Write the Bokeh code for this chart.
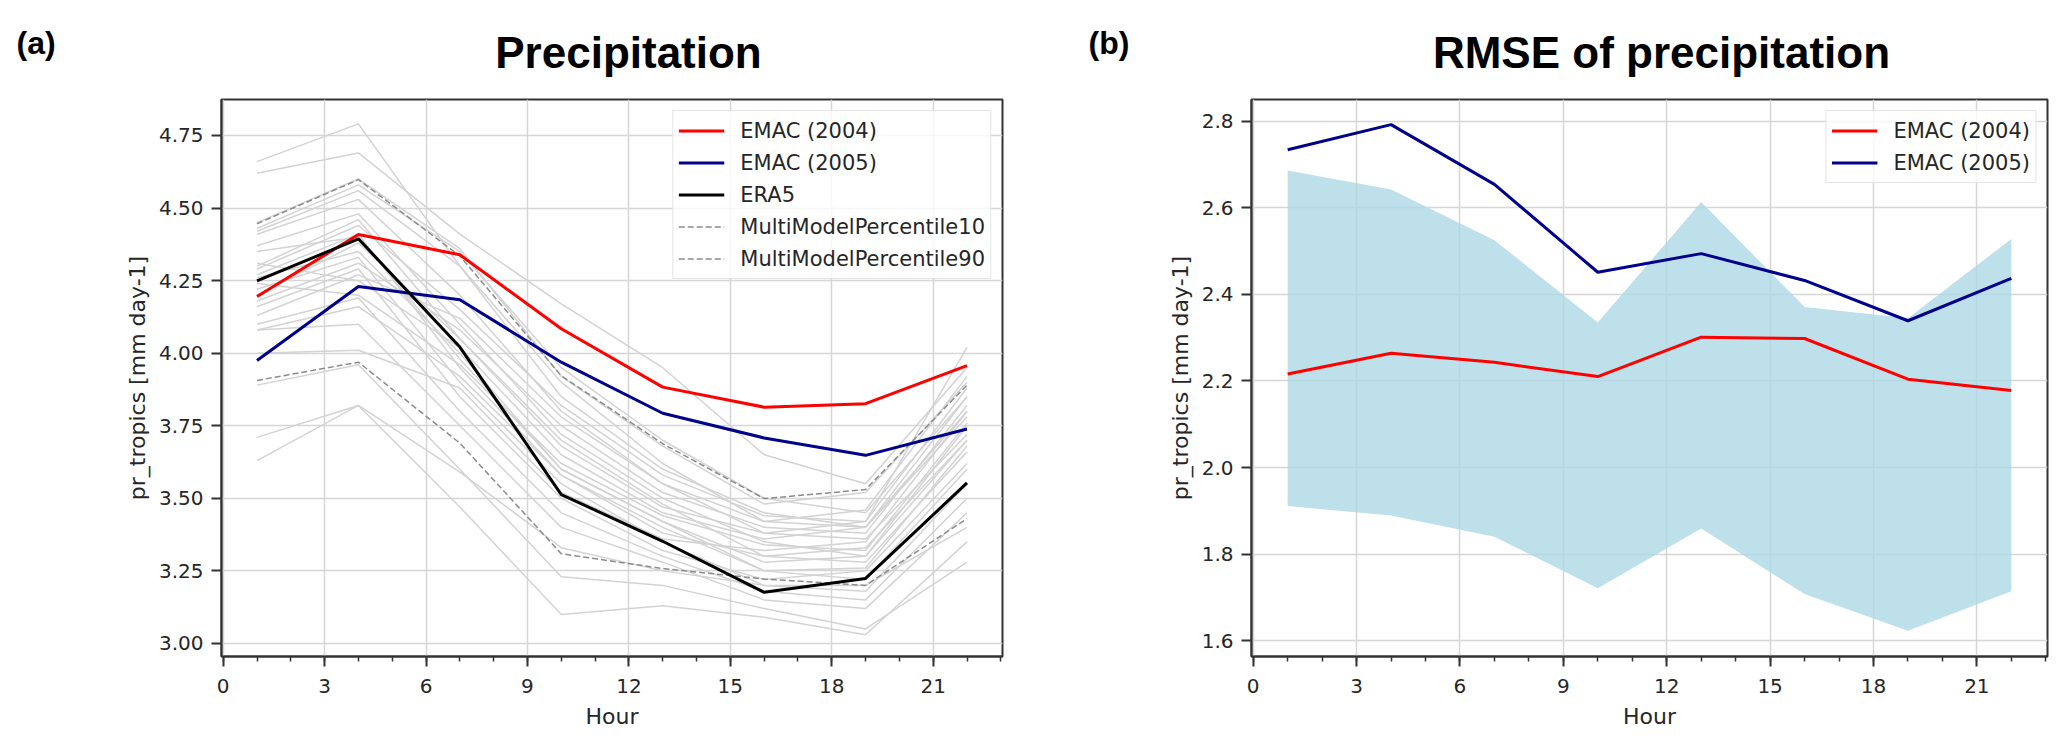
from bokeh.plotting import figure
from bokeh.models import Range1d, FixedTicker, Legend, LegendItem, NumeralTickFormatter
from bokeh.layouts import row, column
from bokeh.core.properties import value
from bokeh.embed import file_html
from bokeh.resources import INLINE

hours = [1, 4, 7, 10, 13, 16, 19, 22]
x_ticks = [0, 3, 6, 9, 12, 15, 18, 21]

# panel (a): diurnal cycle of precipitation
emac2004_pr = [4.195, 4.409, 4.339, 4.084, 3.883, 3.814, 3.826, 3.957]
emac2005_pr = [3.975, 4.230, 4.184, 3.969, 3.793, 3.708, 3.648, 3.739]
era5_pr = [4.249, 4.394, 4.021, 3.513, 3.352, 3.176, 3.224, 3.553]
p10_pr = [3.906, 3.969, 3.690, 3.309, 3.258, 3.222, 3.200, 3.430]
p90_pr = [4.446, 4.598, 4.335, 3.922, 3.688, 3.499, 3.530, 3.890]
models_pr = [
    [4.66, 4.79, 4.30, 3.85, 3.60, 3.45, 3.40, 3.80],
    [4.62, 4.69, 4.41, 4.17, 3.95, 3.65, 3.55, 3.95],
    [4.43, 4.58, 4.35, 3.95, 3.70, 3.50, 3.45, 3.85],
    [4.42, 4.56, 4.30, 3.90, 3.62, 3.42, 3.40, 3.78],
    [4.41, 4.53, 4.20, 3.80, 3.55, 3.38, 3.36, 3.72],
    [4.37, 4.48, 4.10, 3.72, 3.50, 3.35, 3.30, 3.70],
    [4.30, 4.46, 4.05, 3.70, 3.48, 3.30, 3.28, 3.66],
    [4.29, 4.44, 4.15, 3.82, 3.58, 3.44, 3.42, 3.88],
    [4.27, 4.41, 3.95, 3.58, 3.40, 3.25, 3.22, 3.60],
    [4.26, 4.35, 4.00, 3.60, 3.42, 3.28, 3.30, 3.75],
    [4.22, 4.33, 3.90, 3.55, 3.35, 3.20, 3.18, 3.55],
    [4.18, 4.31, 4.08, 3.75, 3.52, 3.40, 3.38, 3.82],
    [4.16, 4.29, 3.85, 3.50, 3.32, 3.22, 3.25, 3.62],
    [4.13, 4.27, 4.12, 3.78, 3.55, 3.42, 3.46, 3.92],
    [4.10, 4.19, 3.80, 3.45, 3.30, 3.18, 3.15, 3.50],
    [4.08, 4.16, 3.92, 3.58, 3.38, 3.30, 3.33, 3.70],
    [4.08, 4.10, 3.75, 3.40, 3.28, 3.15, 3.12, 3.45],
    [4.00, 4.01, 3.88, 3.52, 3.36, 3.32, 3.35, 3.80],
    [3.89, 3.96, 3.60, 3.23, 3.20, 3.12, 3.05, 3.28],
    [3.71, 3.82, 3.59, 3.33, 3.25, 3.20, 3.20, 3.40],
    [3.63, 3.82, 3.47, 3.10, 3.13, 3.09, 3.03, 3.35],
    [4.45, 4.60, 4.36, 3.92, 3.68, 3.48, 3.52, 3.90],
    [4.31, 4.25, 4.02, 3.65, 3.45, 3.36, 3.40, 3.85],
    [4.24, 4.20, 3.96, 3.62, 3.44, 3.34, 3.32, 3.76],
    [4.20, 4.38, 4.05, 3.68, 3.47, 3.38, 3.42, 4.02],
    [4.35, 4.40, 3.98, 3.60, 3.42, 3.25, 3.26, 3.68],
]
pr_yticks = [3.00, 3.25, 3.50, 3.75, 4.00, 4.25, 4.50, 4.75]

# panel (b): RMSE of precipitation
emac2004_rmse = [2.216, 2.264, 2.243, 2.210, 2.301, 2.298, 2.204, 2.178]
emac2005_rmse = [2.734, 2.792, 2.654, 2.451, 2.494, 2.432, 2.339, 2.437]
band_low_rmse = [1.911, 1.889, 1.840, 1.721, 1.859, 1.708, 1.623, 1.714]
band_high_rmse = [2.686, 2.642, 2.525, 2.335, 2.613, 2.371, 2.345, 2.528]
rmse_yticks = [1.6, 1.8, 2.0, 2.2, 2.4, 2.6, 2.8]

panel_tags = ["(a)", "(b)"]
panel_titles = ["Precipitation", "RMSE of precipitation"]

TXT = "#262626"
FONT = "DejaVu Sans"
TFONT = "Liberation Sans"


def style(p, yticks, yfmt):
    p.background_fill_color = "white"
    p.border_fill_color = "white"
    p.outline_line_color = "#333333"
    p.outline_line_width = 2
    p.xaxis.ticker = FixedTicker(ticks=x_ticks, minor_ticks=list(range(0, 24)))
    p.yaxis.ticker = FixedTicker(ticks=yticks)
    p.yaxis.formatter = NumeralTickFormatter(format=yfmt)
    for ax in (p.xaxis[0], p.yaxis[0]):
        ax.axis_line_color = "#333333"
        ax.axis_line_width = 2
        ax.major_tick_line_color = "#333333"
        ax.major_tick_line_width = 2
        ax.major_tick_in = 0
        ax.major_tick_out = 10
        ax.minor_tick_line_color = "#333333"
        ax.minor_tick_line_width = 1.5
        ax.minor_tick_in = 0
        ax.minor_tick_out = 5
        ax.major_label_text_font = FONT
        ax.major_label_text_font_size = "20px"
        ax.major_label_text_color = TXT
        ax.axis_label_text_font = FONT
        ax.axis_label_text_font_size = "22px"
        ax.axis_label_text_font_style = "normal"
        ax.axis_label_text_color = TXT
    p.xaxis.major_label_standoff = 12
    p.yaxis.major_label_standoff = 8
    p.yaxis.minor_tick_line_color = None
    p.xaxis.axis_label = "Hour"
    p.xaxis.axis_label_standoff = 8
    p.yaxis.axis_label = "pr_tropics [mm day-1]"
    p.yaxis.axis_label_standoff = 6
    p.xgrid.ticker = FixedTicker(ticks=x_ticks)
    p.ygrid.ticker = FixedTicker(ticks=yticks)
    for g in (p.xgrid[0], p.ygrid[0]):
        g.grid_line_color = "#d6d6d6"
        g.grid_line_width = 1.5


def make_legend(items):
    lg = Legend(items=items, location="top_right")
    lg.label_text_font = FONT
    lg.label_text_font_size = "21px"
    lg.label_text_color = TXT
    lg.glyph_width = 46
    lg.glyph_height = 29
    lg.label_height = 29
    lg.label_standoff = 16
    lg.spacing = 3
    lg.padding = 5
    lg.margin = 11
    lg.border_line_color = "#cccccc"
    lg.border_line_width = 1.5
    lg.background_fill_alpha = 0.8
    return lg


# ---------- header with panel tags and titles
hdr = figure(width=2059, height=95, x_range=Range1d(0, 2059), y_range=Range1d(95, 0),
             output_backend="svg", toolbar_location=None, x_axis_type=None, y_axis_type=None,
             min_border=0, outline_line_color=None)
hdr.grid.visible = False
hdr.text(x=[16, 1088], y=[42, 42], text=panel_tags, text_font=value(TFONT), text_font_style="bold",
         text_font_size="32px", text_baseline="alphabetic", text_align="left", text_color="black")
hdr.text(x=[628, 1661], y=[52, 52], text=panel_titles, text_font=value(TFONT), text_font_style="bold",
         text_font_size="44px", text_baseline="alphabetic", text_align="center", text_color="black")

# ---------- panel (a)
p1 = figure(width=1130, height=639, x_range=Range1d(-0.05, 23.05), y_range=Range1d(2.955, 4.874),
            output_backend="svg", toolbar_location=None,
            min_border_left=221, min_border_right=128, min_border_top=4, min_border_bottom=78)
style(p1, pr_yticks, "0.00")
for m in models_pr:
    p1.line(hours, m, line_color="#d3d3d3", line_width=1.5)
r_p10 = p1.line(hours, p10_pr, line_color="#8c8c8c", line_width=1.5, line_dash="6 3")
r_p90 = p1.line(hours, p90_pr, line_color="#8c8c8c", line_width=1.5, line_dash="6 3")
r_e04 = p1.line(hours, emac2004_pr, line_color="red", line_width=3)
r_e05 = p1.line(hours, emac2005_pr, line_color="darkblue", line_width=3)
r_era = p1.line(hours, era5_pr, line_color="black", line_width=3)
p1.add_layout(make_legend([
    LegendItem(label="EMAC (2004)", renderers=[r_e04]),
    LegendItem(label="EMAC (2005)", renderers=[r_e05]),
    LegendItem(label="ERA5", renderers=[r_era]),
    LegendItem(label="MultiModelPercentile10", renderers=[r_p10]),
    LegendItem(label="MultiModelPercentile90", renderers=[r_p90]),
]))

# ---------- panel (b)
p2 = figure(width=929, height=639, x_range=Range1d(-0.05, 23.05), y_range=Range1d(1.5635, 2.85),
            output_backend="svg", toolbar_location=None,
            min_border_left=121, min_border_right=12, min_border_top=4, min_border_bottom=78)
style(p2, rmse_yticks, "0.0")
p2.varea(x=hours, y1=band_low_rmse, y2=band_high_rmse, fill_color="lightblue", fill_alpha=0.8)
q_e04 = p2.line(hours, emac2004_rmse, line_color="red", line_width=3)
q_e05 = p2.line(hours, emac2005_rmse, line_color="darkblue", line_width=3)
p2.add_layout(make_legend([
    LegendItem(label="EMAC (2004)", renderers=[q_e04]),
    LegendItem(label="EMAC (2005)", renderers=[q_e05]),
]))

layout = column(hdr, row(p1, p2))
open("out.html", "w").write(file_html(layout, INLINE))
